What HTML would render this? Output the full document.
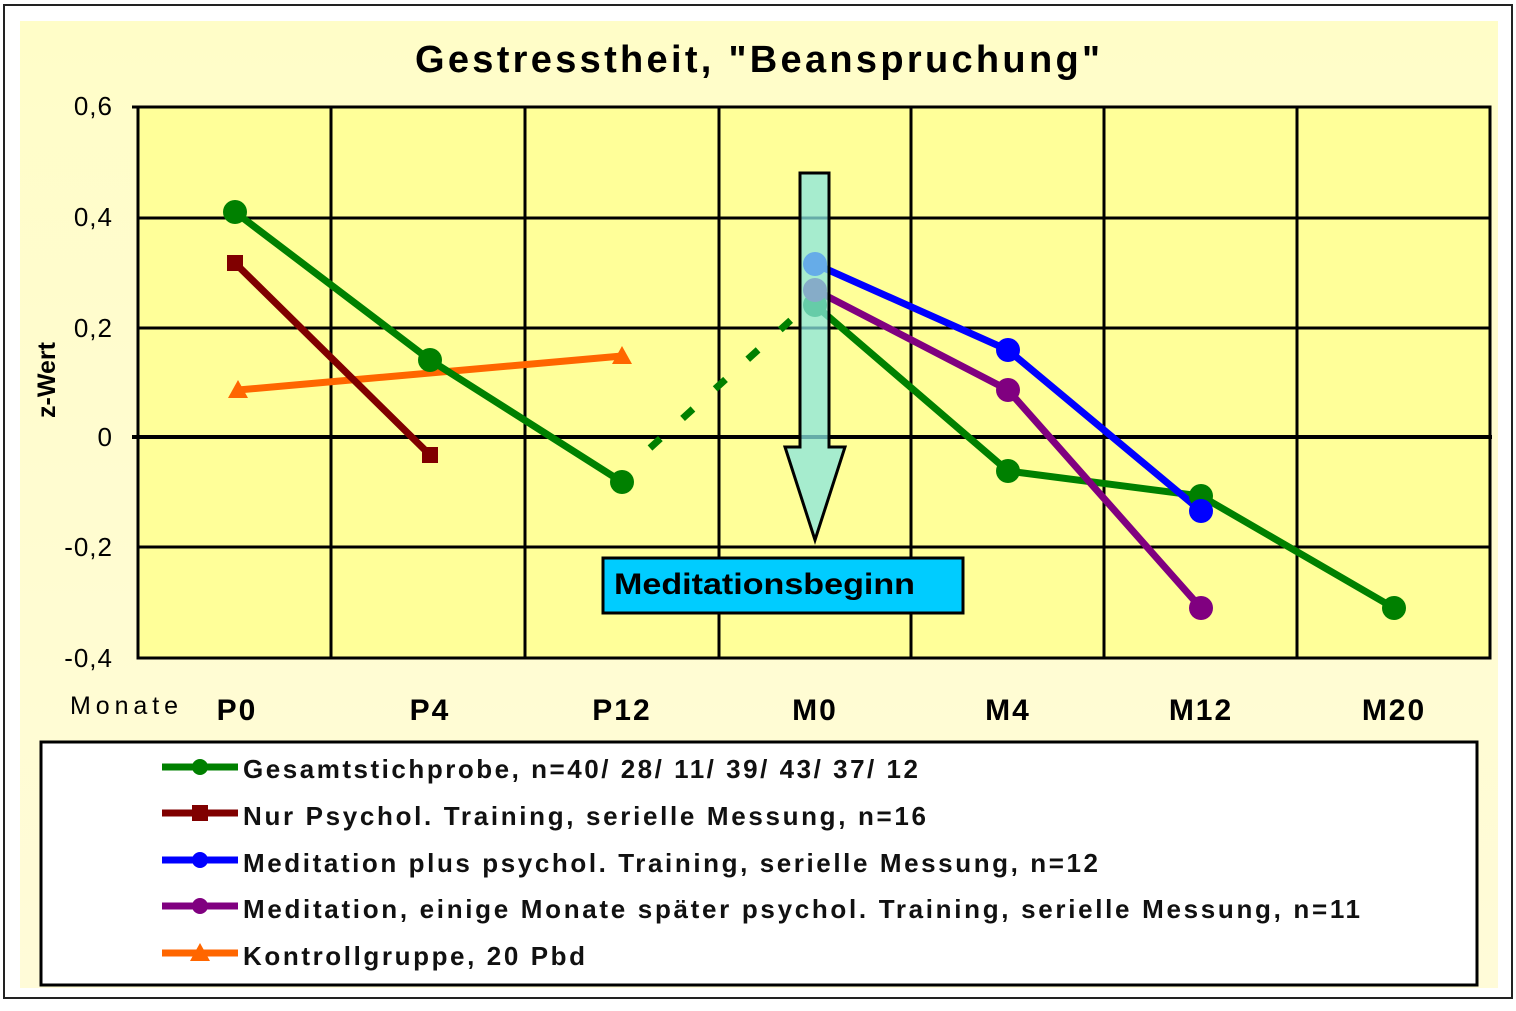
<!DOCTYPE html>
<html><head><meta charset="utf-8"><style>
body{margin:0;background:#fff;}
svg text{font-family:"Liberation Sans",sans-serif;}
</style></head><body>
<svg width="1516" height="1006" viewBox="0 0 1516 1006" xmlns="http://www.w3.org/2000/svg">
<defs>
<linearGradient id="bg" x1="0" y1="0" x2="0" y2="1"><stop offset="0" stop-color="#fffdc8"/><stop offset="1" stop-color="#fffbd8"/></linearGradient>
</defs>
<rect x="4" y="5" width="1508" height="993" fill="#fff" stroke="#222" stroke-width="2"/>
<rect x="20" y="21" width="1478" height="967" fill="url(#bg)"/>
<text x="415" y="72" font-size="38" font-weight="bold" textLength="685" lengthAdjust="spacing">Gestresstheit, "Beanspruchung"</text>
<rect x="138" y="107" width="1352" height="551" fill="#ffff99"/>
<g stroke="#000" stroke-width="3">
<line x1="331" y1="107" x2="331" y2="658"/><line x1="525" y1="107" x2="525" y2="658"/><line x1="719" y1="107" x2="719" y2="658"/><line x1="911" y1="107" x2="911" y2="658"/><line x1="1104" y1="107" x2="1104" y2="658"/><line x1="1297" y1="107" x2="1297" y2="658"/>
<line x1="138" y1="218" x2="1490" y2="218"/><line x1="138" y1="328" x2="1490" y2="328"/><line x1="138" y1="547" x2="1490" y2="547"/>
<line x1="132" y1="437" x2="1492" y2="437" stroke-width="4"/>
<rect x="138" y="107" width="1352" height="551" fill="none"/>
<line x1="132" y1="107" x2="138" y2="107"/>
</g>
<g font-size="26" text-anchor="end" letter-spacing="1">
<text x="113" y="115">0,6</text><text x="113" y="226">0,4</text><text x="113" y="337">0,2</text><text x="113" y="446">0</text><text x="113" y="556">-0,2</text><text x="113" y="667">-0,4</text>
</g>
<text transform="translate(55,380) rotate(-90)" font-size="25" font-weight="bold" text-anchor="middle">z-Wert</text>
<text x="70" y="714" font-size="25" textLength="108" lengthAdjust="spacing">Monate</text>
<g font-size="30" font-weight="bold" text-anchor="middle" letter-spacing="2">
<text x="237" y="720">P0</text><text x="430" y="720">P4</text><text x="622" y="720">P12</text><text x="815" y="720">M0</text><text x="1008" y="720">M4</text><text x="1201" y="720">M12</text><text x="1394" y="720">M20</text>
</g>
<!-- series -->
<line x1="650" y1="448" x2="802" y2="310" stroke="#008000" stroke-width="7" stroke-dasharray="14,30"/>
<polyline points="238,390 622,356" fill="none" stroke="#ff6600" stroke-width="7"/>
<polygon points="238,380 228,398 248,398" fill="#ff6600"/><polygon points="622,346 612,364 632,364" fill="#ff6600"/>
<polyline points="235,263 430,455" fill="none" stroke="#800000" stroke-width="7"/>
<rect x="227" y="255" width="16" height="16" fill="#800000"/><rect x="422" y="447" width="16" height="16" fill="#800000"/>
<polyline points="235,212 430,360 622,482" fill="none" stroke="#008000" stroke-width="7"/>
<polyline points="815,305 1008,471 1201,496 1394,608" fill="none" stroke="#008000" stroke-width="7"/>
<polyline points="815,290 1008,390 1201,608" fill="none" stroke="#800080" stroke-width="7"/>
<polyline points="815,264 1008,350 1201,511" fill="none" stroke="#0000ff" stroke-width="7"/>
<g fill="#008000"><circle cx="235" cy="212" r="12"/><circle cx="430" cy="360" r="12"/><circle cx="622" cy="482" r="12"/><circle cx="1008" cy="471" r="12"/><circle cx="1201" cy="496" r="12"/><circle cx="1394" cy="608" r="12"/></g>
<g fill="#800080"><circle cx="1008" cy="390" r="12"/><circle cx="1201" cy="608" r="12"/></g>
<g fill="#0000ff"><circle cx="1008" cy="350" r="12"/><circle cx="1201" cy="511" r="12"/></g>
<circle cx="815" cy="305" r="12" fill="#008000"/><circle cx="815" cy="290" r="12" fill="#800080"/><circle cx="815" cy="264" r="12" fill="#0000ff"/>
<!-- arrow -->
<polygon points="800,173 829,173 829,447 845,447 815,540 785,447 800,447" fill="#88e6e0" fill-opacity="0.75" stroke="#000" stroke-width="3"/>
<rect x="603" y="558" width="360" height="55" fill="#00ccff" stroke="#000" stroke-width="3"/>
<text x="614" y="594" font-size="30" font-weight="bold" textLength="301" lengthAdjust="spacingAndGlyphs">Meditationsbeginn</text>
<!-- legend -->
<rect x="41" y="742" width="1436" height="243" fill="#fff" stroke="#000" stroke-width="3"/>
<g font-size="26" font-weight="bold" fill="#111">
<line x1="162" y1="767" x2="238" y2="767" stroke="#008000" stroke-width="7"/><circle cx="200" cy="767" r="8" fill="#008000"/>
<text x="243" y="778" textLength="675" lengthAdjust="spacing">Gesamtstichprobe, n=40/ 28/ 11/ 39/ 43/ 37/ 12</text>
<line x1="162" y1="813" x2="238" y2="813" stroke="#800000" stroke-width="7"/><rect x="192" y="805" width="16" height="16" fill="#800000"/>
<text x="243" y="825" textLength="683" lengthAdjust="spacing">Nur Psychol. Training, serielle Messung, n=16</text>
<line x1="162" y1="860" x2="238" y2="860" stroke="#0000ff" stroke-width="7"/><circle cx="200" cy="860" r="8" fill="#0000ff"/>
<text x="243" y="872" textLength="855" lengthAdjust="spacing">Meditation plus psychol. Training, serielle Messung, n=12</text>
<line x1="162" y1="906" x2="238" y2="906" stroke="#800080" stroke-width="7"/><circle cx="200" cy="906" r="8" fill="#800080"/>
<text x="243" y="918" textLength="1117" lengthAdjust="spacing">Meditation, einige Monate später psychol. Training, serielle Messung, n=11</text>
<line x1="162" y1="953" x2="238" y2="953" stroke="#ff6600" stroke-width="7"/><polygon points="200,943 190,961 210,961" fill="#ff6600"/>
<text x="243" y="965" textLength="342" lengthAdjust="spacing">Kontrollgruppe, 20 Pbd</text>
</g>
</svg>
</body></html>
